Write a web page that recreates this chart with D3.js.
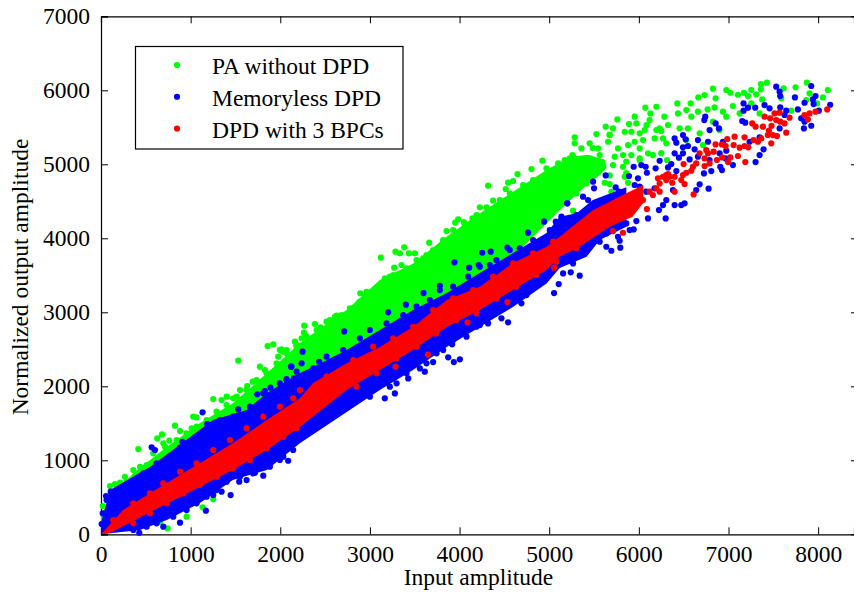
<!DOCTYPE html>
<html>
<head>
<meta charset="utf-8">
<script src="https://cdn.jsdelivr.net/npm/d3@7"></script>
<style>
  html, body { margin: 0; padding: 0; background: #fff; }
  svg { display: block; }
  text { font-family: "Liberation Serif", serif; fill: #000; }
</style>
</head>
<body>
<div id="chart"></div>
<script>
// Ticks and labels
const xTicks = [0, 1000, 2000, 3000, 4000, 5000, 6000, 7000, 8000];
const yTicks = [0, 1000, 2000, 3000, 4000, 5000, 6000, 7000];
const legendLabels = ['PA without DPD', 'Memoryless DPD', 'DPD with 3 BPCs'];
const seriesColors = ['#00ff00', '#0000ff', '#ff0000'];

// Edges of the solid part of each cloud as [input, output]
const greenUpper = [[0, 250], [65, 420], [360, 830], [733, 1180], [1100, 1500], [1470, 1770], [1850, 2175], [2218, 2585], [2366, 2715], [2740, 3030], [3110, 3436], [3482, 3660], [3854, 4020], [4226, 4337], [4597, 4630], [4969, 4923], [5229, 5100], [5430, 5130], [5620, 5060], [5640, 4950]];
const greenLower = [[0, 0], [65, 50], [360, 250], [733, 550], [1100, 850], [1470, 1150], [1850, 1400], [2218, 1700], [2366, 1850], [3110, 2500], [3857, 3100], [4595, 3750], [5117, 4380], [5400, 4700], [5560, 4850]];
const blueUpper = [[0, 150], [100, 600], [546, 910], [845, 1180], [1250, 1545], [1625, 1680], [1850, 1910], [2218, 2180], [2366, 2260], [2740, 2490], [3110, 2760], [3480, 3030], [3857, 3260], [4225, 3530], [4595, 3800], [4970, 4070], [5117, 4290], [5305, 4340], [5487, 4516], [5860, 4690]];
const blueLower = [[0, 0], [435, 58], [735, 193], [1100, 420], [1470, 734], [1850, 870], [2218, 1230], [2925, 1800], [3110, 1950], [3480, 2220], [3857, 2530], [4225, 2800], [4595, 3070], [4970, 3390], [5117, 3600], [5417, 3750], [5563, 3977], [5860, 4155]];
const redUpper = [[0, 0], [245, 330], [660, 640], [1100, 960], [1470, 1230], [1850, 1545], [2218, 1840], [2366, 2045], [2740, 2310], [3110, 2530], [3480, 2800], [3857, 3165], [4225, 3345], [4595, 3665], [4970, 3885], [5117, 4020], [5487, 4380], [5860, 4610], [6050, 4720]];
const redLower = [[0, 0], [100, 17], [660, 370], [1100, 640], [1470, 870], [1850, 1140], [2218, 1450], [2740, 1950], [3110, 2220], [3480, 2490], [3857, 2800], [4225, 3030], [4595, 3300], [4970, 3570], [5117, 3750], [5340, 3885], [5674, 4155], [5930, 4290], [6050, 4480]];

// Separate dots around the clouds and at the sparse end
const greenPoints = [[7874,6103],[8108,6004],[8053,5904],[7748,6040],[7428,6103],[7361,6085],[7361,6013],[7614,6026],[7254,6004],[7172,5967],[7105,5940],[7020,5967],[6975,6004],[6826,6022],[6733,5936],[6663,5904],[6856,5891],[7217,5922],[7309,5945],[7376,5877],[7254,5823],[7588,5891],[7904,5958],[7867,5868],[7986,5823],[7700,5724],[7347,5688],[7124,5688],[7049,5787],[6938,5711],[6975,5643],[6845,5769],[6767,5742],[6659,5711],[6577,5823],[6429,5823],[6529,5733],[6585,5643],[6436,5688],[6195,5778],[6072,5765],[6128,5688],[6284,5643],[5953,5643],[5760,5607],[5630,5508],[5712,5485],[5526,5409],[5284,5364],[5284,5283],[5359,5215],[5451,5283],[5890,5544],[5972,5553],[6120,5598],[6232,5485],[6325,5530],[6548,5485],[6455,5485],[6826,5576],[6901,5463],[6678,5418],[6306,5283],[6157,5125],[6009,5058],[6314,5058],[6715,5260],[6529,5328],[5823,4967],[5842,4832],[5879,4751],[5674,4733],[5693,4629],[5619,4751],[5266,4373],[5266,4238],
  [5674,5395],[5656,5305],[5544,5215],[5563,5125],[5767,5215],[5730,5103],[5842,5440],[5916,5440],[6009,5418],[6065,5463],[6195,5463],[6046,5328],[6176,5350],[6269,5350],[5953,5305],[5879,5260],[6009,5215],[5823,5125],[5916,5125],[6102,5148],[5860,5035],[6009,5080],[5712,4990],[5581,4967],[5433,5012],[5266,5103],[5173,5058],[5340,4945],[5228,4877],[5489,4877],[5377,4855],[5266,4697],[5154,4607],[5191,4787],[5303,4607],[5414,4742],[5487,5220],[5674,5400],[6085,5530],[6250,5450],[5674,4850],[5860,4880],[6250,5150],
  [1531,2346],[1858,2544],[1921,2567],[1995,2490],[2014,2499],[2181,2558],[1977,2400],[1772,2265],[1828,2220],[1884,2166],[1550,1950],[1691,2062],[1631,2004],[1252,1828],[1401,1860],[1475,1837],[1345,1815],[1029,1589],[1066,1580],[825,1468],[881,1396],[1011,1432],[1066,1454],[680,1350],[628,1296],[416,1152],[762,1265],[695,1229],[713,1184],[583,1094],[509,936],[435,913],[360,868],[267,778],[212,697],[156,679],[100,652],[305,711],[19,382],[63,463],[743,80],[955,238],[1133,364],[1252,472],[658,170],
  [175,598],[286,711],[397,801],[509,868],[620,1004],[732,1139],[843,1274],[955,1364],[1066,1432],[1178,1544],[1289,1657],[1401,1747],[1512,1860],[1624,1950],[1735,2085],[1847,2175],[1958,2310],[2070,2445],[2181,2535],
  [2070,2490],[2163,2603],[2293,2670],[2405,2760],[2516,2873],[2609,2940],[2776,3053],[2869,3121],[2944,3211],[3036,3278],[3167,3459],[3259,3504],[3408,3594],[3520,3706],[3594,3729],[3705,3842],[3817,3977],[3928,4112],[4058,4179],[4188,4314],[4318,4382],[4449,4517],[4560,4607],[4709,4720],[4820,4788],[4969,4945],[5099,5013],[5229,5080],
  [4318,4711],[4646,4869],[4924,5049],[5259,5125],[4802,4936],[4541,4752],[4597,4774],[4515,4666],[4374,4508],[4226,4418],[4300,4418],[3984,4256],[3951,4211],[4047,4220],[4144,4269],[3661,3941],[3854,4098],[3817,3954],[3382,3878],[3285,3819],[3334,3796],[3434,3796],[3122,3738],[3501,3796],[3631,3774],[3271,3603],[3352,3639],[3222,3481],[3129,3377],[2892,3256],[2962,3278],[3066,3301],[2888,3143],[2788,2985],[2683,2963],[2628,2954],[2553,2895],[2386,2841],[2449,2796],[2267,2819],[2264,2724],[2238,2648],[2182,2558],[2026,2468]];

const bluePoints = [[7923,6058],[7532,6049],[7570,5981],[7577,5922],[7741,5904],[7971,5922],[7941,5877],[7848,5832],[7949,5814],[8134,5805],[8008,5724],[7774,5742],[7644,5724],[7577,5769],[7402,5801],[7458,5756],[7298,5765],[7217,5765],[7168,5823],[7168,5724],[7625,5666],[7811,5621],[7848,5576],[7923,5521],[7841,5485],[7570,5485],[7153,5585],[7187,5562],[6741,5643],[6730,5598],[6856,5553],[6893,5485],[6789,5463],[6492,5395],[6522,5337],[6399,5350],[6418,5292],[6659,5328],[6771,5305],[6938,5305],[7235,5305],[7347,5364],[6492,5229],[6548,5247],[6622,5202],[6399,5148],[6492,5148],[6447,5089],[6566,5066],[6659,5103],[6789,5058],[6901,5148],[6975,5184],[6968,5080],[7049,4990],[7391,5202],[7347,5125],[7302,5030],[6362,5003],[6232,5048],[6325,4958],[5942,4967],[6027,4990],[6076,4967],[6187,4945],[6090,4886],[6418,4909],[6726,4877],[6808,4909],[6908,4967],[6927,4922],[5890,4841],[5990,4810],[5630,4850],[5489,4765],[5500,4675],[5741,4688],[5778,4630],[6678,4729],[6640,4652],[6778,4670],[6380,4652],[6399,4449],[6510,4472],[6473,4449],[6306,4517],[6269,4449],[6224,4382],[6299,4269],[6102,4269],[5972,4233],[5942,4120],[5767,4021],[5786,3967],[5793,3873],[5637,3886],[5693,3832],[5199,4472],[5136,4292],
  [5377,4562],[5433,4517],[5489,4449],[5563,4472],[5637,4494],[5730,4517],[5823,4517],[5916,4562],[6009,4697],[5953,4720],[6083,4630],[6176,4675],[5489,4066],[5563,3954],[5637,4066],[5749,4156],[5860,4201],[5897,4111],[5414,3864],[5340,3796],[5228,3886],[5563,4247],
  [5203,4472],[4943,4224],[5073,4224],[4764,4076],[4534,3873],[4348,3819],[4252,3805],[3943,3675],[4107,3603],[4214,3639],[4337,3639],[3780,3359],[3598,3260],[3401,3103],[3204,2999],[2713,2742],[2249,2468],[2238,2310],[2119,2265],[2434,2332],
  [5054,3260],[5106,3382],[5240,3540],[5340,3495],[4746,3233],[4690,3121],[4541,2864],[4467,2918],[4318,2850],[4226,2828],[4003,2364],[3936,2328],[3873,2391],[3705,2328],[3917,2567],[3612,2197],[3427,2107],[3278,1904],[3166,1837],[3000,1859],
  [3222,1995],[3297,2040],[3408,2175],[3557,2242],[3631,2310],[3743,2445],[3817,2490],[3928,2625],[4077,2670],[4188,2805],[4300,2940],[4411,3031],[4597,3166],[4709,3256],[4820,3346],[4932,3436],[5155,3526],[5266,3661],
  [2070,2084],[2182,2197],[2368,2242],[2516,2400],[2702,2490],[2888,2648],[2999,2760],[3185,2850],[3371,2963],[3520,3076],[3668,3166],[3780,3301],[3928,3346],[4096,3481],[4226,3616],[4411,3706],[4560,3841],[4672,3864],[4820,3977],[5006,4112],[5155,4202],[5303,4315],
  [360,58],[509,103],[620,148],[806,238],[955,328],[1066,418],[1178,508],[1289,598],[1401,711],[1550,778],[1698,823],[1884,913],[1995,1004],[2144,1139],
  [63,463],[212,508],[360,643],[472,823],[620,958],[769,1049],[918,1229],[1066,1319],[1215,1454],[1327,1544],[1475,1589],[1661,1724],[1810,1905],[1995,2040],
  [1133,1648],[1185,1490],[565,1175],[602,1139],[907,1251],[881,1170],[1531,1688],[2125,2265],[2070,2098],[2152,2107],[1891,1981],[1743,1891],[1828,1936],[56,517],[108,576],[19,283],[7,139],[386,733],[423,778],[2088,994],[1810,792],[1624,733],[1542,711],[1446,530],[1345,576],[1170,319],[1252,530],[881,157],[695,103],[427,21],[2033,1049],[1717,832]];

const redPoints = [[8101,5742],[7971,5711],[7904,5688],[7848,5666],[7885,5607],[7681,5630],[7625,5553],[7570,5697],[7514,5688],[7402,5643],[7465,5621],[7532,5598],[7577,5576],[7265,5553],[7302,5508],[7384,5508],[7480,5521],[7451,5454],[7495,5395],[7540,5382],[7644,5427],[7439,5395],[7365,5350],[7280,5328],[7328,5305],[7477,5283],[7179,5364],[7068,5373],[6986,5341],[6856,5269],[6927,5269],[6968,5247],[7057,5260],[7124,5224],[7179,5247],[7220,5229],[6752,5193],[6834,5170],[6678,5148],[6771,5148],[6733,5080],[6930,5093],[7020,5093],[7105,5112],[6871,5058],[6994,5030],[7187,5030],[6789,5012],[6733,4976],[6640,5012],[6603,4967],[6499,5003],[6529,4886],[6492,4855],[6585,4913],[6325,4868],[6399,4832],[6373,4751],[6306,4787],[6213,4810],[6473,4787],[6510,4733],[6232,4630],[6157,4585],[6399,4630],[6611,4593],[6090,4395],[5712,4098],[5823,4075],
  [6120,4630],[6046,4517],[6195,4675],[6232,4742],[6269,4832],[6306,4855],[6343,4832],
  [137,193],[360,418],[546,553],[695,688],[881,846],[1066,958],[1252,1139],[1438,1274],[1624,1432],[1810,1589],[1995,1724],[2144,1837],
  [360,148],[546,283],[732,418],[918,553],[1103,666],[1289,778],[1475,891],[1661,1004],[1847,1161],[2033,1319],[2181,1432],
  [2219,1949],[2516,2130],[2814,2355],[3036,2535],[3259,2648],[3482,2805],[3705,3031],[3928,3188],[4151,3301],[4374,3481],[4597,3661],[4820,3796],[5043,3954],[5266,4112],
  [2851,1994],[3074,2175],[3297,2377],[3519,2535],[3743,2715],[3966,2895],[4188,3031],[4411,3188],[4634,3346],[4857,3504],[5080,3684],[5303,3864],
  [4534,3139],[4088,2864],[3646,2427],[3285,2265],[5054,3603],[4188,2985]];

const width = 854, height = 595;
const margin = { left: 101, right: 0, top: 16.3, bottom: 60.7 };
const fontSize = 23.5;

const svg = d3.select('#chart').append('svg')
  .attr('width', width)
  .attr('height', height);

const x = d3.scaleLinear().domain([0, 8400]).range([margin.left, width - margin.right]);
const y = d3.scaleLinear().domain([0, 7000]).range([height - margin.bottom, margin.top]);

// Axes: ticks point inward and repeat on the opposite side, as gnuplot draws them
const tickLen = 7;
svg.append('g')
  .attr('transform', `translate(0,${y(0)})`)
  .call(d3.axisBottom(x).tickValues(xTicks).tickSize(-tickLen).tickPadding(11.5).tickFormat(d3.format('d')))
  .call(g => g.selectAll('text').attr('font-size', fontSize));
svg.append('g')
  .attr('transform', `translate(${x(0)},0)`)
  .call(d3.axisLeft(y).tickValues(yTicks).tickSize(-tickLen).tickPadding(11).tickFormat(d3.format('d')))
  .call(g => g.selectAll('text').attr('font-size', fontSize));
svg.append('g')
  .attr('transform', `translate(0,${y(7000)})`)
  .call(d3.axisTop(x).tickValues(xTicks).tickSize(-tickLen).tickFormat(''));
svg.append('g')
  .attr('transform', `translate(${width},0)`)
  .call(d3.axisRight(y).tickValues(yTicks).tickSize(-3).tickFormat(''))
  .call(g => g.select('.domain').remove());
svg.selectAll('.domain').attr('stroke', '#000').attr('stroke-width', 1.2);
svg.selectAll('.tick line').attr('stroke', '#000').attr('stroke-width', 1);

// Clouds
const line = d3.line().x(d => x(d[0])).y(d => y(d[1]));
const dotR = 3.1;
const series = [
  { upper: greenUpper, lower: greenLower, points: greenPoints, color: seriesColors[0] },
  { upper: blueUpper, lower: blueLower, points: bluePoints, color: seriesColors[1] },
  { upper: redUpper, lower: redLower, points: redPoints, color: seriesColors[2] }
];

series.forEach(s => {
  const g = svg.append('g');
  g.append('path')
    .attr('d', line(s.upper.concat(s.lower.slice().reverse())) + 'Z')
    .attr('fill', s.color);
  g.selectAll('circle')
    .data(s.points)
    .join('circle')
    .attr('cx', d => x(d[0]))
    .attr('cy', d => y(d[1]))
    .attr('r', dotR)
    .attr('fill', s.color);
});

// Axis titles
svg.append('text')
  .attr('x', 478.5)
  .attr('y', 585)
  .attr('text-anchor', 'middle')
  .attr('font-size', fontSize)
  .text('Input amplitude');
svg.append('text')
  .attr('transform', 'translate(28,277) rotate(-90)')
  .attr('text-anchor', 'middle')
  .attr('font-size', fontSize)
  .text('Normalized output amplitude');

// Legend
const legend = svg.append('g');
legend.append('rect')
  .attr('x', 135.5)
  .attr('y', 46.5)
  .attr('width', 267.5)
  .attr('height', 102.5)
  .attr('fill', '#fff')
  .attr('stroke', '#000')
  .attr('stroke-width', 1.2);
const legendY = d3.scalePoint().domain(legendLabels).range([65, 128.5]);
legendLabels.forEach((label, i) => {
  legend.append('circle')
    .attr('cx', 177)
    .attr('cy', legendY(label))
    .attr('r', dotR)
    .attr('fill', seriesColors[i]);
  legend.append('text')
    .attr('x', 212)
    .attr('y', legendY(label) + 9)
    .attr('font-size', fontSize)
    .text(label);
});
</script>
</body>
</html>
